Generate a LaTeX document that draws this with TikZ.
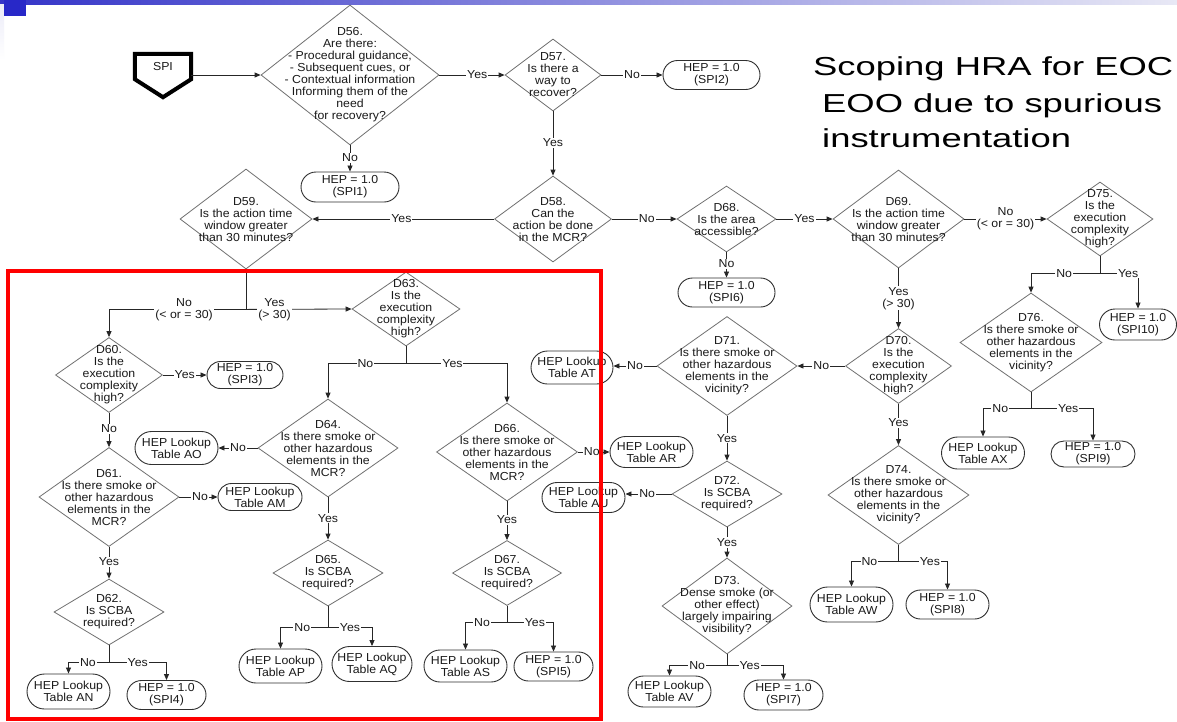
\documentclass[tikz,border=0pt]{standalone}
\usepackage{fontspec}
\setmainfont{Liberation Sans}
\newfontfamily\chartfont[FakeStretch=1.06]{Liberation Sans}
\newfontfamily\headfont[FakeStretch=1.4]{Liberation Sans}
\usetikzlibrary{shapes.geometric,shapes.misc,arrows.meta,calc}

\definecolor{ink}{HTML}{1A1A1A}
\definecolor{rim}{HTML}{707070}
\definecolor{ovalrim}{HTML}{303030}
\definecolor{wirecol}{HTML}{262626}
\definecolor{barL}{HTML}{3434C8}
\definecolor{barR}{HTML}{E8E8F5}
\definecolor{tabcol}{HTML}{2828C8}
\definecolor{edgecol}{HTML}{ECECF8}

\tikzset{
  txt/.style={font=\chartfont\fontsize{11.6}{12}\selectfont, text=ink, align=center, inner sep=0pt},
  dia/.style 2 args={diamond, draw=rim, line width=0.8pt, inner sep=0pt,
    minimum width=#1pt, minimum height=#2pt},
  oval/.style 2 args={rounded rectangle, draw=ovalrim, line width=0.9pt, txt,
    minimum width=#1pt, minimum height=#2pt},
  lbl/.style={txt, fill=white, inner sep=1pt},
  wire/.style={draw=wirecol, line width=0.8pt},
  arr/.style={wire, -{Triangle[length=6pt,width=5pt]}},
  headline/.style={font=\headfont\fontsize{26}{36}\selectfont, text=black, inner sep=0pt, anchor=base west},
  spibox/.style={txt, minimum width=56pt, minimum height=25pt, inner sep=0pt}
}

\begin{document}
\begin{tikzpicture}[x=1pt, y=-1pt]
\useasboundingbox (0,0) rectangle (1177,721);
\clip (0,0) rectangle (1177,721);
\fill[white] (0,0) rectangle (1177,721);

% slide header decoration
\shade[left color=barL, right color=barR] (0,0) rectangle (1177,4.5);
\shade[top color=edgecol, bottom color=white] (0,4.5) rectangle (4,60);
\fill[tabcol] (4,0) rectangle (26,16);

% title
\node[headline] (t1) at (813,75) {Scoping HRA for EOC or};
\node[headline] (t2) at (822,112) {EOO due to spurious};
\node[headline] (t3) at (822,147) {instrumentation};

% entry point
\node[spibox] (spi) at (163,66.5) {SPI};
\draw[draw=black, line width=4pt, line join=miter]
  (spi.north west) -- (spi.north east) -- (spi.south east)
  -- ($(spi.south)+(0,18)$) -- (spi.south west) -- cycle;

% decision diamonds
\node[dia={178}{140}, label={[txt]center:{D56.\\Are there:\\- Procedural guidance,\\- Subsequent cues, or\\- Contextual information\\Informing them of the\\need\\for recovery?}}] (d56) at (350,75) {};
\node[dia={96}{72}, label={[txt]center:{D57.\\Is there a\\way to\\recover?}}] (d57) at (553,75) {};
\node[dia={117}{86}, label={[txt]center:{D58.\\Can the\\action be done\\in the MCR?}}] (d58) at (553,219) {};
\node[dia={132}{100}, label={[txt]center:{D59.\\Is the action time\\window greater\\than 30 minutes?}}] (d59) at (246,219) {};
\node[dia={107}{75}, label={[txt]center:{D60.\\Is the\\execution\\complexity\\high?}}] (d60) at (109,375) {};
\node[dia={140}{99}, label={[txt]center:{D61.\\Is there smoke or\\other hazardous\\elements in the\\MCR?}}] (d61) at (109,497) {};
\node[dia={110}{66}, label={[txt]center:{D62.\\Is SCBA\\required?}}] (d62) at (109,612) {};
\node[dia={108}{74}, label={[txt]center:{D63.\\Is the\\execution\\complexity\\high?}}] (d63) at (406,309) {};
\node[dia={140}{98}, label={[txt]center:{D64.\\Is there smoke or\\other hazardous\\elements in the\\MCR?}}] (d64) at (328,448) {};
\node[dia={110}{66}, label={[txt]center:{D65.\\Is SCBA\\required?}}] (d65) at (328,573) {};
\node[dia={141}{98}, label={[txt]center:{D66.\\Is there smoke or\\other hazardous\\elements in the\\MCR?}}] (d66) at (507,452) {};
\node[dia={109}{65}, label={[txt]center:{D67.\\Is SCBA\\required?}}] (d67) at (507,573) {};
\node[dia={99}{66}, label={[txt]center:{D68.\\Is the area\\accessible?}}] (d68) at (726.5,219) {};
\node[dia={131}{98}, label={[txt]center:{D69.\\Is the action time\\window greater\\than 30 minutes?}}] (d69) at (898.5,219) {};
\node[dia={106}{75}, label={[txt]center:{D70.\\Is the\\execution\\complexity\\high?}}] (d70) at (898.5,366) {};
\node[dia={140}{99}, label={[txt]center:{D71.\\Is there smoke or\\other hazardous\\elements in the\\vicinity?}}] (d71) at (727,366) {};
\node[dia={110}{66}, label={[txt]center:{D72.\\Is SCBA\\required?}}] (d72) at (727,494) {};
\node[dia={130}{96}, label={[txt]center:{D73.\\Dense smoke (or\\other effect)\\largely impairing\\visibility?}}] (d73) at (727,606) {};
\node[dia={141}{99}, label={[txt]center:{D74.\\Is there smoke or\\other hazardous\\elements in the\\vicinity?}}] (d74) at (898.5,495) {};
\node[dia={106}{74}, label={[txt]center:{D75.\\Is the\\execution\\complexity\\high?}}] (d75) at (1100,219) {};
\node[dia={142}{99}, label={[txt]center:{D76.\\Is there smoke or\\other hazardous\\elements in the\\vicinity?}}] (d76) at (1031,342.5) {};

% end states
\node[oval={98}{30}] (spi1) at (350,187) {HEP = 1.0\\(SPI1)};
\node[oval={97}{29}] (spi2) at (711.5,75) {HEP = 1.0\\(SPI2)};
\node[oval={76}{27}] (spi3) at (245,375) {HEP = 1.0\\(SPI3)};
\node[oval={79}{29}] (spi4) at (166.5,695) {HEP = 1.0\\(SPI4)};
\node[oval={79}{29}] (spi5) at (553.5,666.5) {HEP = 1.0\\(SPI5)};
\node[oval={97}{29}] (spi6) at (726.5,292.5) {HEP = 1.0\\(SPI6)};
\node[oval={79}{30}] (spi7) at (783.5,695) {HEP = 1.0\\(SPI7)};
\node[oval={83}{29}] (spi8) at (947.5,604.5) {HEP = 1.0\\(SPI8)};
\node[oval={84}{26}] (spi9) at (1093,454) {HEP = 1.0\\(SPI9)};
\node[oval={77}{31}] (spi10) at (1138,324.5) {HEP = 1.0\\(SPI10)};
\node[oval={84}{27}] (am) at (260,497) {HEP Lookup\\Table AM};
\node[oval={83}{35}] (an) at (68.5,691.5) {HEP Lookup\\Table AN};
\node[oval={83}{33}] (ao) at (176.5,448) {HEP Lookup\\Table AO};
\node[oval={83}{34}] (ap) at (280.5,666) {HEP Lookup\\Table AP};
\node[oval={80}{35}] (aq) at (372,664) {HEP Lookup\\Table AQ};
\node[oval={83}{31}] (ar) at (651.5,452) {HEP Lookup\\Table AR};
\node[oval={83}{32}] (as) at (465.5,666) {HEP Lookup\\Table AS};
\node[oval={82}{33}] (at) at (572,367.5) {HEP Lookup\\Table AT};
\node[oval={83}{30}] (au) at (583.5,497.5) {HEP Lookup\\Table AU};
\node[oval={83}{31}] (av) at (669.5,691.5) {HEP Lookup\\Table AV};
\node[oval={83}{35}] (aw) at (851.5,604.5) {HEP Lookup\\Table AW};
\node[oval={83}{32}] (ax) at (983,453) {HEP Lookup\\Table AX};

% top row
\draw[arr] (spi.east |- d56.west) -- (d56.west);
\draw[arr] (d56.east) -- node[lbl,pos=.58]{Yes} (d57.west);
\draw[arr] (d56.south) -- node[lbl,pos=.48]{No} (spi1.north);
\draw[arr] (d57.east) -- node[lbl]{No} (spi2.west);
\draw[arr] (d57.south) -- node[lbl,pos=.49]{Yes} (d58.north);
\draw[arr] (d58.west) -- node[lbl,pos=.51]{Yes} (d59.east);
\draw[arr] (d58.east) -- node[lbl,pos=.54]{No} (d68.west);
\draw[arr] (d68.south) -- node[lbl,pos=.46]{No} (spi6.north);
\draw[arr] (d68.east) -- node[lbl]{Yes} (d69.west);
\draw[arr] (d69.east) -- node[lbl]{No\\(< or = 30)} (d75.west);
\draw[arr] (d69.south) -- node[lbl]{Yes\\(> 30)} (d70.north);

% actions in the MCR
\draw[wire] (d59.south) -- ++(0,40) coordinate (j59);
\draw[arr] (j59) -| node[lbl,pos=.226]{No\\(< or = 30)} (d60.north);
\draw[arr] (j59) -- node[lbl,pos=.27]{Yes\\(> 30)} (d63.west);
\draw[arr] (d60.east) -- node[lbl]{Yes} (d60.east -| spi3.west);
\draw[arr] (d60.south) -- node[lbl,pos=.47]{No} (d61.north);
\draw[arr] (d61.east) -- node[lbl,pos=.54]{No} (d61.east -| am.west);
\draw[arr] (d61.south) -- node[lbl,pos=.47]{Yes} (d62.north);
\draw[wire] (d62.south) -- ++(0,17) coordinate (j62);
\draw[arr] (j62) -| node[lbl,pos=.26]{No} (an.north);
\draw[arr] (j62) -| node[lbl,pos=.25]{Yes} (spi4.north);
\draw[wire] (d63.south) -- ++(0,17) coordinate (j63);
\draw[arr] (j63) -| node[lbl,pos=.26]{No} (d64.north);
\draw[arr] (j63) -| node[lbl,pos=.23]{Yes} (d66.north);
\draw[arr] (d64.west) -- node[lbl]{No} (d64.west -| ao.east);
\draw[arr] (d64.south) -- node[lbl,pos=.49]{Yes} (d65.north);
\draw[wire] (d65.south) -- ++(0,21) coordinate (j65);
\draw[arr] (j65) -| node[lbl,pos=.27]{No} (ap.north);
\draw[arr] (j65) -| node[lbl,pos=.25]{Yes} (aq.north);
\draw[arr] (d66.east) -- node[lbl,pos=.44]{No} (d66.east -| ar.west);
\draw[arr] (d66.south) -- node[lbl,pos=.48]{Yes} (d67.north);
\draw[wire] (d67.south) -- ++(0,16.5) coordinate (j67);
\draw[arr] (j67) -| node[lbl,pos=.3]{No} (as.north);
\draw[arr] (j67) -| node[lbl,pos=.3]{Yes} (spi5.north);

% actions outside the MCR
\draw[arr] (d70.west) -- node[lbl]{No} (d71.east);
\draw[arr] (d71.west) -- node[lbl]{No} (d71.west -| at.east);
\draw[arr] (d71.south) -- node[lbl]{Yes} (d72.north);
\draw[arr] (d72.west) -- node[lbl,pos=.53]{No} (d72.west -| au.east);
\draw[arr] (d72.south) -- node[lbl]{Yes} (d73.north);
\draw[wire] (d73.south) -- ++(0,11) coordinate (j73);
\draw[arr] (j73) -| node[lbl,pos=.26]{No} (av.north);
\draw[arr] (j73) -| node[lbl,pos=.2]{Yes} (spi7.north);
\draw[arr] (d70.south) -- node[lbl,pos=.46]{Yes} (d74.north);
\draw[wire] (d74.south) -- ++(0,16.5) coordinate (j74);
\draw[arr] (j74) -| node[lbl,pos=.31]{No} (aw.north);
\draw[arr] (j74) -| node[lbl,pos=.32]{Yes} (spi8.north);
\draw[wire] (d75.south) -- ++(0,17) coordinate (j75);
\draw[arr] (j75) -| node[lbl,pos=.26]{No} (d76.north);
\draw[arr] (j75) -| node[lbl,pos=.37]{Yes} (spi10.north);
\draw[wire] (d76.south) -- ++(0,16) coordinate (j76);
\draw[arr] (j76) -| node[lbl,pos=.32]{No} (ax.north);
\draw[arr] (j76) -| node[lbl,pos=.3]{Yes} (spi9.north);

% highlighted region
\draw[red, line width=4pt] (8,271) rectangle (601,719);
\end{tikzpicture}
\end{document}
